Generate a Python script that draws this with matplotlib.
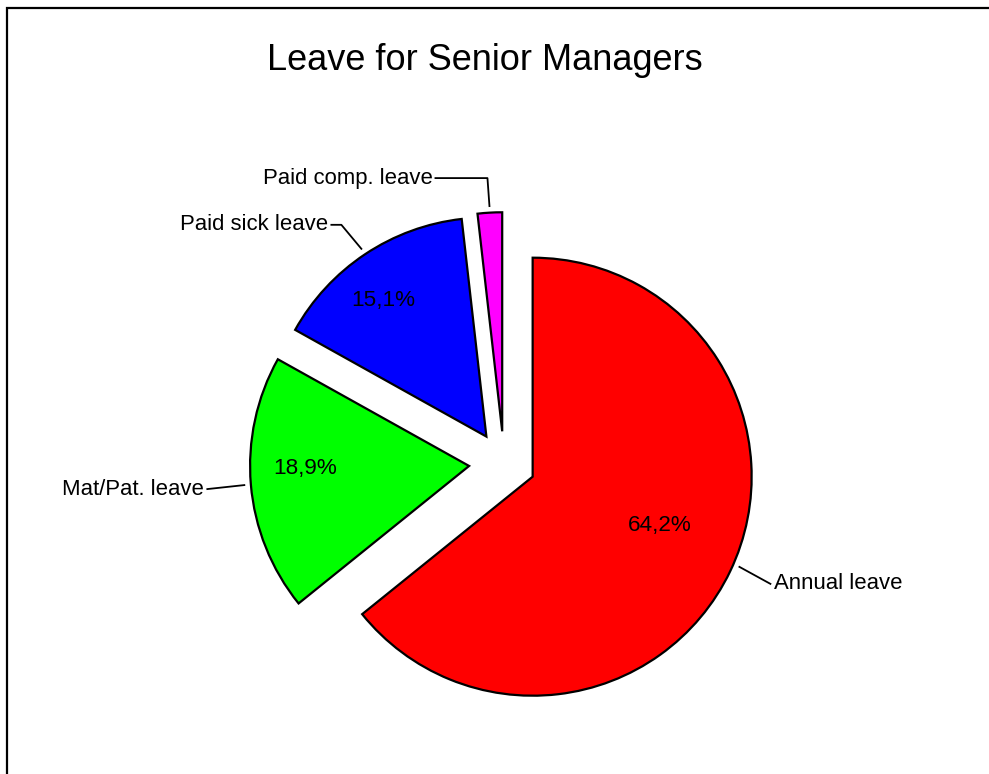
import math
import matplotlib
matplotlib.use("Agg")
import matplotlib.pyplot as plt
from matplotlib.patches import Rectangle

plt.rcParams['font.family'] = ['Liberation Sans', 'DejaVu Sans']

# data
categories = ['Annual leave', 'Mat/Pat. leave', 'Paid sick leave', 'Paid comp. leave']
shares = [64.2, 18.9, 15.1, 1.8]
colors = ['#ff0000', '#00ff00', '#0000ff', '#ff00ff']
show_pct = [True, True, True, False]

# layout, in pixels of the 989x774 canvas
W, H = 989, 774
R = 219
center = (504, 311)
explode = [0.145, 0.16, 0.145, 0.145]
pct_dist = [0.62, 0.75, 0.78, 0.7]
pct_turn = [4.5, -4, 3.5, 0]  # degrees off the mid angle
anchor_turn = [2, 0, 0, 0]
# leader line: offset of the elbow from the edge anchor, then horizontal run
elbow = [(31, -17), (-37, -4), (-20, 24), (-2, 28)]
run = [0, 0, -10, -52]
side = ['left', 'right', 'right', 'right']

fig = plt.figure(figsize=(W / 100, H / 100), dpi=100)
ax = fig.add_axes([0, 0, 1, 1])

wedges, _ = ax.pie(shares, colors=colors, startangle=90, counterclock=False,
                   center=center, radius=R, explode=[e * R for e in explode],
                   frame=True, wedgeprops=dict(edgecolor='black', linewidth=1.6))
ax.set_xlim(0, W)
ax.set_ylim(0, H)
ax.set_aspect('auto')
ax.axis('off')

for i, w in enumerate(wedges):
    mid = (w.theta1 + w.theta2) / 2
    cx, cy = w.center
    if show_pct[i]:
        t = math.radians(mid + pct_turn[i])
        d = pct_dist[i] * w.r
        ax.text(cx + d * math.cos(t), cy + d * math.sin(t),
                f'{shares[i]:.1f}'.replace('.', ',') + '%',
                ha='center', va='center', fontsize=16.2)
    t = math.radians(mid + anchor_turn[i])
    ax0 = cx + 1.03 * w.r * math.cos(t)
    ay0 = cy + 1.03 * w.r * math.sin(t)
    ex, ey = ax0 + elbow[i][0], ay0 + elbow[i][1]
    tx = ex + run[i]
    ax.plot([ax0, ex, tx], [ay0, ey, ey], color='black', lw=1.3)
    pad = 4 if side[i] == 'left' else -3
    ax.text(tx + pad, ey, categories[i], ha=side[i], va='center', fontsize=15.9)

fig.text(485 / W, 1 - 60 / H, 'Leave for Senior Managers', ha='center', va='center',
         fontsize=26)

# outer frame, cut off at right and bottom
fig.patches.append(Rectangle((7 / W, -0.1), 1.2, 1 - 8 / H + 0.1, transform=fig.transFigure,
                             fill=False, edgecolor='black', linewidth=1.6))

fig.savefig('out.png', dpi=100)
